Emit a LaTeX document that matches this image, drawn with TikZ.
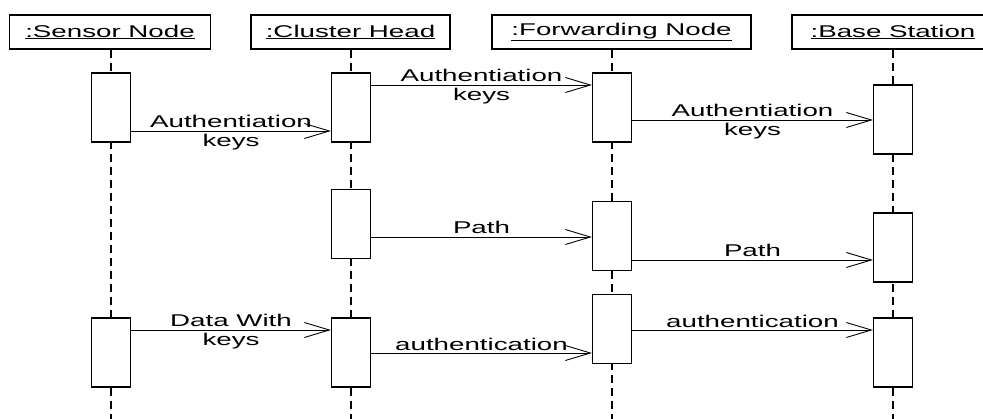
\documentclass[tikz,border=0pt]{standalone}
\usepackage{fontspec}
\setmainfont{Liberation Sans}
\usetikzlibrary{arrows.meta,positioning}

\tikzset{
  head/.style={draw,line width=1.2pt,minimum height=34pt,xscale=1.63,inner sep=2pt},
  act/.style={draw,fill=white,line width=1.2pt,minimum width=39pt,minimum height=69pt,inner sep=0pt},
  life/.style={line width=1.2pt,dash pattern=on 8pt off 5pt},
  msg/.style={line width=0.9pt,-{Straight Barb[length=25pt,width=15pt,line width=0.9pt]}},
  lbl/.style={xscale=1.63,align=center,inner sep=1pt}
}

\begin{document}
\begin{tikzpicture}[x=1pt,y=-1pt,font=\fontsize{17}{19}\selectfont]
\useasboundingbox (0,0) rectangle (983,419);
\clip (0,0) rectangle (983,419);
\node[head,minimum width=123pt] (sensor) at (110,32) {\underline{:Sensor Node}};
\node[head,minimum width=122pt] (cluster) at (350.5,32) {\underline{:Cluster Head}};
\node[head,minimum width=159pt] (fwd) at (621.5,32) {\underline{:Forwarding Node}};
\node[head,minimum width=124pt] (base) at (893,32) {\underline{:Base Station}};
\coordinate (sEnd) at (111,420);
\coordinate (cEnd) at (351,420);
\coordinate (fEnd) at (612,420);
\coordinate (bEnd) at (893,420);
\draw[life] (sensor.south -| sEnd) -- (sEnd);
\draw[life] (cluster.south -| cEnd) -- (cEnd);
\draw[life] (fwd.south -| fEnd) -- (fEnd);
\draw[life] (base.south -| bEnd) -- (bEnd);
\node[act] (s1) at (111,107.5) {};
\node[act] (c1) at (351,107.5) {};
\node[act] (f1) at (612,107.5) {};
\node[act] (b1) at (893,119.5) {};
\node[act] (c2) at (351,224) {};
\node[act] (f2) at (612,236) {};
\node[act] (b2) at (893,247.5) {};
\node[act] (s3) at (111,352.5) {};
\node[act] (c3) at (351,352.5) {};
\node[act] (f3) at (612,329) {};
\node[act] (b3) at (893,352.5) {};
\draw[msg] (s1.east |- 0,131) -- (c1.west |- 0,131) node[midway,lbl,yshift=-2pt] {Authentiation\\keys};
\draw[msg] (c1.east |- 0,85) -- (f1.west |- 0,85) node[midway,lbl,yshift=-2pt] {Authentiation\\keys};
\draw[msg] (f1.east |- 0,120) -- (b1.west |- 0,120) node[midway,lbl,yshift=-2pt] {Authentiation\\keys};
\draw[msg] (c2.east |- 0,237) -- (f2.west |- 0,237) node[midway,lbl,above=2pt] {Path};
\draw[msg] (f2.east |- 0,260) -- (b2.west |- 0,260) node[midway,lbl,above=2pt] {Path};
\draw[msg] (s3.east |- 0,330) -- (c3.west |- 0,330) node[midway,lbl,yshift=-2pt] {Data With\\keys};
\draw[msg] (c3.east |- 0,353) -- (f3.west |- 0,353) node[midway,lbl,above=1pt] {authentication};
\draw[msg] (f3.east |- 0,330) -- (b3.west |- 0,330) node[midway,lbl,above=1pt] {authentication};
\end{tikzpicture}
\end{document}
